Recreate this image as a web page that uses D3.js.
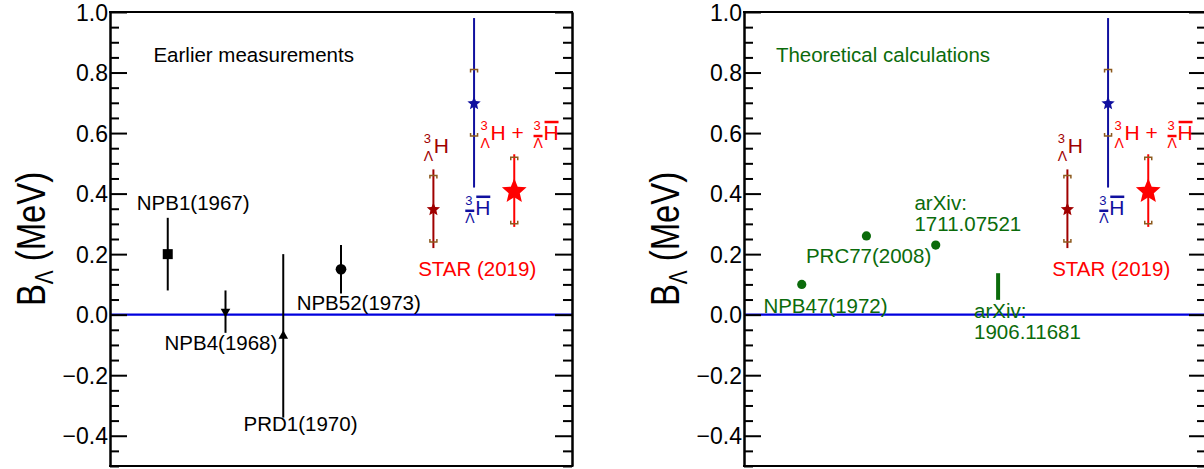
<!DOCTYPE html>
<html>
<head>
<meta charset="utf-8">
<script src="https://cdn.jsdelivr.net/npm/d3@7"></script>
<style>
  body { margin: 0; background: #fff; }
  svg { display: block; font-family: "Liberation Sans", Arial, Helvetica, sans-serif; }
</style>
</head>
<body>
<svg id="chart" width="1204" height="469"></svg>
<script>
// y axis
var yTicks = [-0.4, -0.2, 0.0, 0.2, 0.4, 0.6, 0.8, 1.0];
var yTickLabels = ["\u22120.4", "\u22120.2", "0.0", "0.2", "0.4", "0.6", "0.8", "1.0"];

// earlier measurements (left panel)
var earlierNames = ["NPB1(1967)", "NPB4(1968)", "PRD1(1970)", "NPB52(1973)"];
var earlierX = [1.25, 2.5, 3.75, 5.0];
var earlierB = [0.20, 0.01, -0.07, 0.15];
var earlierErr = [0.12, 0.07, 0.27, 0.08];
var earlierMarker = ["square", "triangleDown", "triangleUp", "circle"];

// theoretical calculations (right panel)
var theoryNames = ["NPB47(1972)", "PRC77(2008)", "arXiv:1711.07521", "arXiv:1906.11681"];
var theoryX = [1.25, 2.65, 4.15, 5.5];
var theoryB = [0.10, 0.26, 0.23, 0.093];
var theoryErr = [0, 0, 0, 0.044];

// STAR (2019): hypertriton, anti-hypertriton, combined
var starNames = ["hyper", "antihyper", "combined"];
var starX = [7.0, 7.88, 8.75];
var starB = [0.35, 0.70, 0.41];
var starStat = [0.13, 0.28, 0.12];
var starSys = [0.11, 0.11, 0.11];

var colBlack = "#000", colGreen = "#0b6b0b", colDarkRed = "#a00000",
    colBlue = "#10109f", colRed = "#ff0000", colBracket = "#8c5a1e", colZero = "#0000dd";
var starColors = [colDarkRed, colBlue, colRed];
var starSizes = [7, 7, 13];   // outer radius, px

var svg = d3.select("#chart");

var y = d3.scaleLinear().domain([-0.5, 1.0]).range([466, 12]);

// fat five-point star like ROOT marker 29
function starSymbol(r) {
    var p = d3.path();
    for (var k = 0; k < 10; k++) {
        var a = -Math.PI / 2 + k * Math.PI / 5;
        var rr = k % 2 ? r * 0.45 : r;
        if (k === 0) p.moveTo(rr * Math.cos(a), rr * Math.sin(a));
        else p.lineTo(rr * Math.cos(a), rr * Math.sin(a));
    }
    p.closePath();
    return p.toString();
}

function drawPanel(left) {
    var x = d3.scaleLinear().domain([0, 10]).range([left, left + 462]);
    var g = svg.append("g");

    // zero line
    g.append("line")
        .attr("x1", x(0)).attr("x2", x(10))
        .attr("y1", y(0)).attr("y2", y(0))
        .attr("stroke", colZero).attr("stroke-width", 2.2);

    var minor = d3.range(-10, 21).filter(function(i) { return i % 4 !== 0; })
        .map(function(i) { return i * 0.05; });

    // left axis, ticks pointing inside
    var axL = g.append("g").attr("transform", "translate(" + x(0) + ",0)");
    axL.call(d3.axisLeft(y).tickValues(yTicks)
        .tickFormat(function(d, i) { return yTickLabels[i]; })
        .tickSizeInner(-17).tickSizeOuter(0).tickPadding(2));
    axL.append("g").call(d3.axisLeft(y).tickValues(minor).tickFormat("")
        .tickSizeInner(-9).tickSizeOuter(0));
    axL.selectAll("text").attr("font-size", 23).attr("font-family", null)
        .attr("fill", "#000").attr("dy", "0.35em");

    // right axis
    var axR = g.append("g").attr("transform", "translate(" + x(10) + ",0)");
    axR.call(d3.axisRight(y).tickValues(yTicks).tickFormat("")
        .tickSizeInner(-17).tickSizeOuter(0));
    axR.append("g").call(d3.axisRight(y).tickValues(minor).tickFormat("")
        .tickSizeInner(-9).tickSizeOuter(0));

    svg.selectAll(".domain").attr("stroke-width", 2).attr("stroke", "#000");
    svg.selectAll(".tick line").attr("stroke-width", 2).attr("stroke", "#000");

    // top / bottom frame
    [y(1.0), y(-0.5)].forEach(function(yy) {
        g.append("line").attr("x1", x(0) - 1).attr("x2", x(10) + 1)
            .attr("y1", yy).attr("y2", yy)
            .attr("stroke", "#000").attr("stroke-width", 2);
    });

    // axis title
    var title = g.append("text")
        .attr("transform", "translate(" + (left - 65) + "," + y(0.25) + ") rotate(-90) scale(0.8,1)")
        .attr("text-anchor", "middle")
        .attr("font-size", 41);
    title.append("tspan").text("B");
    title.append("tspan").attr("font-size", 26).attr("dy", 8).text("\u039b");
    title.append("tspan").attr("dy", -8).text(" (MeV)");

    g.x = x;
    return g;
}

function bracket(g, cx, cy, dir) {
    // dir = +1 top bracket (tips down), -1 bottom bracket (tips up)
    g.append("path")
        .attr("d", "M" + (cx - 3.5) + "," + (cy + 3 * dir) + "V" + cy + "H" + (cx + 3.5) + "V" + (cy + 3 * dir))
        .attr("fill", "none").attr("stroke", colBracket).attr("stroke-width", 1.5);
}

function hyperLabel(g, px, py, color, anti) {
    g.append("text").attr("x", px).attr("y", py - 10).attr("font-size", 13).attr("fill", color).text("3");
    g.append("text").attr("x", px).attr("y", py + 8).attr("font-size", 14).attr("fill", color).text("\u039b");
    g.append("text").attr("x", px + 10).attr("y", py).attr("font-size", 21).attr("fill", color).text("H");
    if (anti) {
        g.append("line").attr("x1", px).attr("x2", px + 9)
            .attr("y1", py - 4).attr("y2", py - 4)
            .attr("stroke", color).attr("stroke-width", 2.5);
        g.append("line").attr("x1", px + 11).attr("x2", px + 25)
            .attr("y1", py - 18).attr("y2", py - 18)
            .attr("stroke", color).attr("stroke-width", 2.5);
    }
}

function drawStar(g) {
    var x = g.x;
    starX.forEach(function(xv, i) {
        var c = starColors[i];
        g.append("line")
            .attr("x1", x(xv)).attr("x2", x(xv))
            .attr("y1", y(starB[i] + starStat[i])).attr("y2", y(starB[i] - starStat[i]))
            .attr("stroke", c).attr("stroke-width", 2);
        bracket(g, x(xv), y(starB[i] + starSys[i]), 1);
        bracket(g, x(xv), y(starB[i] - starSys[i]), -1);
        g.append("path").attr("d", starSymbol(starSizes[i]))
            .attr("transform", "translate(" + x(xv) + "," + (y(starB[i]) + 0.8) + ")")
            .attr("fill", c);
    });
    hyperLabel(g, x(6.79), y(0.534), colDarkRed, false);
    hyperLabel(g, x(7.69), y(0.33), colBlue, true);
    hyperLabel(g, x(8.02), y(0.577), colRed, false);
    g.append("text").attr("x", x(8.02) + 31).attr("y", y(0.577))
        .attr("font-size", 21).attr("fill", colRed).text("+");
    hyperLabel(g, x(8.02) + 53, y(0.577), colRed, true);
    g.append("text").attr("x", x(6.67)).attr("y", y(0.127))
        .attr("font-size", 20.5).attr("fill", colRed).text("STAR (2019)");
}

// ---- left panel
var gl = drawPanel(110);
var xl = gl.x;
earlierX.forEach(function(xv, i) {
    gl.append("line")
        .attr("x1", xl(xv)).attr("x2", xl(xv))
        .attr("y1", y(earlierB[i] + earlierErr[i])).attr("y2", y(earlierB[i] - earlierErr[i]))
        .attr("stroke", colBlack).attr("stroke-width", 2);
    var sym;
    if (earlierMarker[i] === "square") sym = d3.symbol().type(d3.symbolSquare).size(100)();
    else if (earlierMarker[i] === "circle") sym = d3.symbol().type(d3.symbolCircle).size(90)();
    else sym = d3.symbol().type(d3.symbolTriangle).size(40)();
    gl.append("path").attr("d", sym)
        .attr("transform", "translate(" + xl(xv) + "," + y(earlierB[i]) + ")" +
            (earlierMarker[i] === "triangleDown" ? " rotate(180)" : ""))
        .attr("fill", colBlack);
});
var earlierLabelPos = [[0.58, 0.346], [1.18, -0.117], [2.89, -0.386], [4.04, 0.016]];
earlierNames.forEach(function(n, i) {
    gl.append("text").attr("x", xl(earlierLabelPos[i][0])).attr("y", y(earlierLabelPos[i][1]))
        .attr("font-size", 20.5).attr("fill", colBlack).text(n);
});
gl.append("text").attr("x", xl(0.94)).attr("y", y(0.836))
    .attr("font-size", 20.5).text("Earlier measurements");
drawStar(gl);

// ---- right panel
var gr = drawPanel(744);
var xr = gr.x;
theoryX.forEach(function(xv, i) {
    if (theoryErr[i] > 0) {
        gr.append("line")
            .attr("x1", xr(xv)).attr("x2", xr(xv))
            .attr("y1", y(theoryB[i] + theoryErr[i])).attr("y2", y(theoryB[i] - theoryErr[i]))
            .attr("stroke", colGreen).attr("stroke-width", 4);
    } else {
        gr.append("circle").attr("cx", xr(xv)).attr("cy", y(theoryB[i]))
            .attr("r", 4.6).attr("fill", colGreen);
    }
});
var theoryLabelPos = [[0.42, 0.006], [1.34, 0.17], [3.69, 0.346], [4.98, -0.011]];
theoryNames.forEach(function(n, i) {
    var t = gr.append("text").attr("x", xr(theoryLabelPos[i][0])).attr("y", y(theoryLabelPos[i][1]))
        .attr("font-size", 20.5).attr("fill", colGreen);
    var parts = n.indexOf("arXiv:") === 0 ? ["arXiv:", n.slice(6)] : [n];
    parts.forEach(function(p, k) {
        t.append("tspan").attr("x", xr(theoryLabelPos[i][0])).attr("dy", k ? 21.5 : 0).text(p);
    });
});
gr.append("text").attr("x", xr(0.69)).attr("y", y(0.836))
    .attr("font-size", 20.5).attr("fill", colGreen).text("Theoretical calculations");
drawStar(gr);
</script>
</body>
</html>
